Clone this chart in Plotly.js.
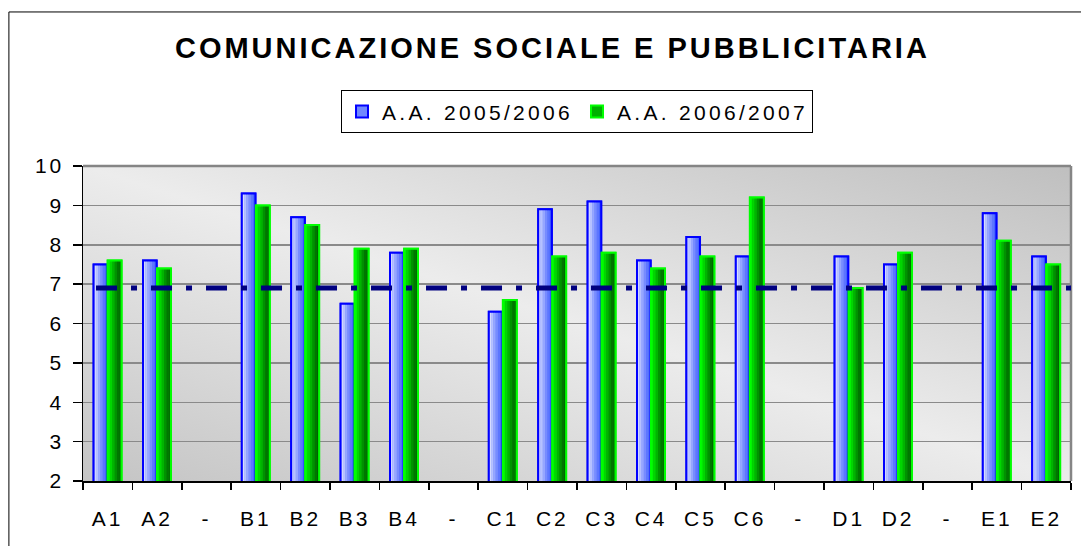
<!DOCTYPE html>
<html>
<head>
<meta charset="utf-8">
<script src="https://cdn.plot.ly/plotly-3.0.1.min.js"></script>
<style>
  html, body { margin: 0; padding: 0; background: #ffffff; }
  #chart { width: 1081px; height: 546px; }
  .gtitle { letter-spacing: 3px; }
  .xtick text, .ytick text { letter-spacing: 3px; }
  .legendtext { letter-spacing: 3.3px; }
</style>
</head>
<body>
<div id="chart"></div>
<script>
// ---- data ----
const categories = ["A1","A2","-","B1","B2","B3","B4","-","C1","C2","C3","C4","C5","C6","-","D1","D2","-","E1","E2"];
const aa0506 = [7.5, 7.6, null, 9.3, 8.7, 6.5, 7.8, null, 6.3, 8.9, 9.1, 7.6, 8.2, 7.7, null, 7.7, 7.5, null, 8.8, 7.7];
const aa0607 = [7.6, 7.4, null, 9.0, 8.5, 7.9, 7.9, null, 6.6, 7.7, 7.8, 7.4, 7.7, 9.2, null, 6.9, 7.8, null, 8.1, 7.5];
const media = 6.9;
const seriesNames = ["A.A. 2005/2006", "A.A. 2006/2007"];
const chartTitle = "COMUNICAZIONE SOCIALE E PUBBLICITARIA";

// ---- styles ----
const FONT = "Liberation Sans, Arial, sans-serif";
const xIdx = categories.map((c, i) => i);

const seriesStyle = [
  { y: aa0506, name: seriesNames[0], offset: -0.285, width: 0.275, border: "#0000ff", base: "#7088ff",
    strips: ["#d6dcff", "#b6c1ff", "#96a6ff", "#778cff", "#5d76ff", "#4463ff"] },
  { y: aa0607, name: seriesNames[1], offset: 0.0, width: 0.28, border: "#00ff00", base: "#00b000",
    strips: ["#00f400", "#00d600", "#00b400", "#009200", "#007600", "#006400"] }
];

const traces = [];
seriesStyle.forEach(s => {
  traces.push({
    type: "bar", x: xIdx, y: s.y, name: s.name, offset: s.offset, width: s.width,
    marker: { color: s.base, line: { color: s.border, width: 2 } },
    hoverinfo: "skip", showlegend: true
  });
  const n = s.strips.length;
  s.strips.forEach((col, k) => {
    traces.push({
      type: "bar", x: xIdx, y: s.y, offset: s.offset + k * s.width / n, width: s.width / n + 0.002,
      marker: { color: col, line: { width: 0 } }, hoverinfo: "skip", showlegend: false
    });
  });
  traces.push({
    type: "bar", x: xIdx, y: s.y, offset: s.offset, width: s.width,
    marker: { color: "rgba(0,0,0,0)", line: { color: s.border, width: 2 } },
    hoverinfo: "skip", showlegend: false
  });
});

const bgSvg = '<svg xmlns="http://www.w3.org/2000/svg" width="100" height="100" viewBox="0 0 100 100" preserveAspectRatio="none">' +
  '<defs><linearGradient id="g" x1="0" y1="1" x2="1" y2="0">' +
  '<stop offset="0" stop-color="#c4c4c4"/><stop offset="0.5" stop-color="#ececec"/><stop offset="1" stop-color="#bfbfbf"/>' +
  '</linearGradient></defs><rect x="0" y="0" width="100" height="100" fill="url(#g)"/></svg>';
const bgUri = "data:image/svg+xml;charset=utf-8," + encodeURIComponent(bgSvg);

const layout = {
  width: 1081, height: 546,
  margin: { l: 83, r: 10, t: 166, b: 65, pad: 0 },
  paper_bgcolor: "#ffffff",
  plot_bgcolor: "rgba(0,0,0,0)",
  barmode: "overlay",
  font: { family: FONT, size: 21, color: "#000000" },
  title: {
    text: chartTitle,
    font: { family: FONT, size: 29, weight: "bold", color: "#000000" },
    xref: "container", x: 0.511, xanchor: "center",
    yref: "container", y: 1 - 48 / 546, yanchor: "middle"
  },
  showlegend: true,
  legend: {
    orientation: "h", xref: "paper", yref: "paper",
    x: 0.5, xanchor: "center", y: 1.24, yanchor: "top",
    bgcolor: "#ffffff", bordercolor: "#000000", borderwidth: 1,
    font: { family: FONT, size: 21, color: "#000000" },
    itemwidth: 30, entrywidthmode: "pixels", entrywidth: 190,
    traceorder: "normal", itemclick: false, itemdoubleclick: false
  },
  xaxis: {
    range: [-0.5, 19.5], tickmode: "array", tickvals: xIdx, ticktext: categories,
    ticks: "", ticklabelstandoff: 18, showgrid: false, zeroline: false,
    showline: true, linecolor: "#000000", linewidth: 1.5,
    tickfont: { family: FONT, size: 21, color: "#000000" },
    minor: { tickmode: "linear", tick0: -0.5, dtick: 1, ticks: "outside", ticklen: 7,
             tickwidth: 1.5, tickcolor: "#000000", showgrid: false },
    fixedrange: true
  },
  yaxis: {
    range: [2, 10], tickmode: "linear", tick0: 2, dtick: 1,
    ticks: "outside", ticklen: 9, tickwidth: 1.5, tickcolor: "#000000", ticklabelstandoff: 4,
    showline: true, linecolor: "#000000", linewidth: 1.5,
    showgrid: true, gridcolor: "#8a8a8a", gridwidth: 1.5, zeroline: false,
    tickfont: { family: FONT, size: 21, color: "#000000" },
    fixedrange: true
  },
  images: [{
    source: bgUri, xref: "paper", yref: "paper", x: 0, y: 1, sizex: 1, sizey: 1,
    xanchor: "left", yanchor: "top", sizing: "stretch", layer: "below"
  }],
  shapes: [
    { type: "rect", xref: "paper", yref: "paper", x0: -0.075, x1: 1.05, y0: -0.3, y1: 1.489,
      line: { color: "#000000", width: 1 }, fillcolor: "rgba(0,0,0,0)", layer: "below" },
    { type: "line", xref: "paper", yref: "paper", x0: 0, x1: 1, y0: 1, y1: 1,
      line: { color: "#858585", width: 2.5 }, layer: "below" },
    { type: "line", xref: "paper", yref: "paper", x0: 1, x1: 1, y0: 0, y1: 1,
      line: { color: "#858585", width: 2.5 }, layer: "below" },
    { type: "line", xref: "paper", yref: "y", x0: 13 / 987, x1: 1, y0: media, y1: media,
      line: { color: "#000080", width: 5, dash: "21px,14px,6px,14px" }, layer: "above" }
  ]
};

Plotly.newPlot("chart", traces, layout, { displayModeBar: false, staticPlot: true });
</script>
</body>
</html>
